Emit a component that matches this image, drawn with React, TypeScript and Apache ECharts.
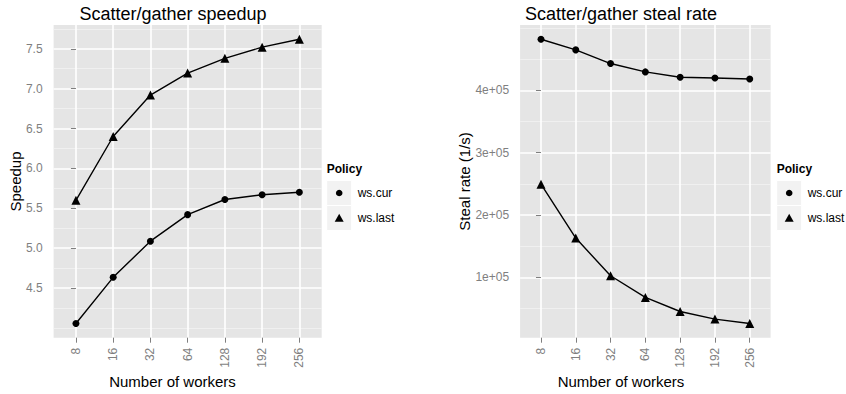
import React, { useEffect, useRef } from "react";
import * as echarts from "echarts";

const WORKERS = ["8", "16", "32", "64", "128", "192", "256"];
const SPEEDUP_CUR = [4.055, 4.634, 5.087, 5.42, 5.61, 5.67, 5.7];
const SPEEDUP_LAST = [5.6, 6.4, 6.92, 7.195, 7.38, 7.52, 7.62];
const STEAL_CUR = [481800, 464700, 442800, 429400, 420900, 419700, 418100];
const STEAL_LAST = [249500, 163100, 102700, 67900, 45400, 33200, 26200];
const SPEEDUP_MAJOR = [4.5, 5.0, 5.5, 6.0, 6.5, 7.0, 7.5];
const SPEEDUP_MINOR = [4.0, 4.25, 4.75, 5.25, 5.75, 6.25, 6.75, 7.25, 7.75];
const STEAL_MAJOR = [100000, 200000, 300000, 400000];
const STEAL_MINOR = [50000, 150000, 250000, 350000, 450000, 500000];
const POLICIES = ["ws.cur", "ws.last"];

const FONT = "Liberation Sans, Arial, Helvetica, sans-serif";
const GREY = "#7f7f7f";

function expand(values: number[]): [number, number] {
  const lo = Math.min(...values);
  const hi = Math.max(...values);
  const pad = (hi - lo) * 0.05;
  return [lo - pad, hi + pad];
}

export default function App() {
  const ref = useRef<HTMLDivElement>(null);
  useEffect(() => {
    if (!ref.current) return;
    const chart = echarts.init(ref.current, undefined, { renderer: "svg" });
    const [sMin, sMax] = expand([...SPEEDUP_CUR, ...SPEEDUP_LAST]);
    const [rMin, rMax] = expand([...STEAL_CUR, ...STEAL_LAST]);
    const idx = WORKERS.map((_, i) => i);

    const xAxis = (gridIndex: number) => ({
      type: "value",
      gridIndex,
      min: -0.6,
      max: WORKERS.length - 1 + 0.6,
      z: 2,
      axisLine: { show: false },
      axisTick: { show: true, length: 5, lineStyle: { color: GREY, width: 1 }, customValues: idx },
      axisLabel: {
        customValues: idx,
        rotate: 90,
        margin: 10,
        color: GREY,
        fontSize: 12,
        fontFamily: FONT,
        formatter: (v: number) => WORKERS[Math.round(v)],
      },
      splitLine: { show: true, lineStyle: { color: "#ffffff", width: 1.6 } },
    });

    const yMajor = (gridIndex: number, min: number, max: number, ticks: number[], fmt: (v: number) => string) => ({
      type: "value",
      gridIndex,
      min,
      max,
      position: "left",
      z: 2,
      axisLine: { show: false },
      axisTick: { show: true, length: 5, lineStyle: { color: GREY, width: 1 }, customValues: ticks },
      axisLabel: { customValues: ticks, margin: 11, color: GREY, fontSize: 12, fontFamily: FONT, formatter: fmt },
      splitLine: { show: true, lineStyle: { color: "#ffffff", width: 1.6 } },
    });
    const yMinor = (gridIndex: number, min: number, max: number, ticks: number[]) => ({
      type: "value",
      gridIndex,
      min,
      max,
      position: "right",
      z: 1,
      axisLine: { show: false },
      axisTick: { show: false, customValues: ticks },
      axisLabel: { show: false, customValues: ticks },
      splitLine: { show: true, lineStyle: { color: "#f2f2f2", width: 0.8 } },
    });

    const line = (name: string, values: number[], xi: number, yi: number, symbol: string, size: number) => ({
      type: "line",
      name,
      xAxisIndex: xi,
      yAxisIndex: yi,
      z: 3,
      data: values.map((v, i) => [i, v]),
      symbol,
      symbolSize: size,
      showSymbol: true,
      lineStyle: { color: "#000", width: 1.4 },
      itemStyle: { color: "#000" },
      emphasis: { disabled: true },
    });

    const legend = (x: number) => {
      const els: any[] = [
        { type: "text", x, y: 168.5, style: { text: "Policy", font: `bold 12px ${FONT}`, fill: "#000", textAlign: "left", textVerticalAlign: "middle" } },
      ];
      POLICIES.forEach((p, i) => {
        const top = 180.5 + i * 25;
        const cx = x + 12.5;
        const cy = top + 12.5;
        els.push({ type: "rect", shape: { x, y: top, width: 25, height: 25 }, style: { fill: "#f2f2f2", stroke: "#ffffff", lineWidth: 1 } });
        if (i === 0) {
          els.push({ type: "circle", shape: { cx, cy, r: 3.3 }, style: { fill: "#000" } });
        } else {
          els.push({ type: "polygon", shape: { points: [[cx - 4.5, cy + 3.8], [cx + 4.5, cy + 3.8], [cx, cy - 4.2]] }, style: { fill: "#000" } });
        }
        els.push({ type: "text", x: x + 31, y: cy, style: { text: p, font: `12px ${FONT}`, fill: "#000", textAlign: "left", textVerticalAlign: "middle" } });
      });
      return els;
    };

    chart.setOption({
      animation: false,
      grid: [
        { left: 53.6, top: 25, width: 268.1, height: 312.7, show: true, backgroundColor: "#e5e5e5", borderWidth: 0, z: 0 },
        { left: 520.1, top: 25, width: 250.5, height: 312.7, show: true, backgroundColor: "#e5e5e5", borderWidth: 0, z: 0 },
      ],
      xAxis: [xAxis(0), xAxis(1)],
      yAxis: [
        yMajor(0, sMin, sMax, SPEEDUP_MAJOR, (v: number) => v.toFixed(1)),
        yMinor(0, sMin, sMax, SPEEDUP_MINOR),
        yMajor(1, rMin, rMax, STEAL_MAJOR, (v: number) => `${Math.round(v / 100000)}e+05`),
        yMinor(1, rMin, rMax, STEAL_MINOR),
      ],
      series: [
        line(POLICIES[0], SPEEDUP_CUR, 0, 0, "circle", 7),
        line(POLICIES[1], SPEEDUP_LAST, 0, 0, "triangle", 9),
        line(POLICIES[0], STEAL_CUR, 1, 2, "circle", 7),
        line(POLICIES[1], STEAL_LAST, 1, 2, "triangle", 9),
      ],
      graphic: [
        { type: "text", x: 173, y: 13.5, style: { text: "Scatter/gather speedup", font: `18px ${FONT}`, fill: "#000", textAlign: "center", textVerticalAlign: "middle" } },
        { type: "text", x: 621, y: 13.5, style: { text: "Scatter/gather steal rate", font: `18px ${FONT}`, fill: "#000", textAlign: "center", textVerticalAlign: "middle" } },
        { type: "text", x: 172.5, y: 381.5, style: { text: "Number of workers", font: `15px ${FONT}`, fill: "#000", textAlign: "center", textVerticalAlign: "middle" } },
        { type: "text", x: 621, y: 381.5, style: { text: "Number of workers", font: `15px ${FONT}`, fill: "#000", textAlign: "center", textVerticalAlign: "middle" } },
        { type: "text", x: 15.5, y: 181.5, rotation: Math.PI / 2, style: { text: "Speedup", font: `15px ${FONT}`, fill: "#000", textAlign: "center", textVerticalAlign: "middle" } },
        { type: "text", x: 464.5, y: 181.5, rotation: Math.PI / 2, style: { text: "Steal rate (1/s)", font: `15px ${FONT}`, fill: "#000", textAlign: "center", textVerticalAlign: "middle" } },
        ...legend(326.7),
        ...legend(776.7),
      ],
    });
    return () => chart.dispose();
  }, []);
  return <div ref={ref} style={{ width: 846, height: 394, position: "absolute", left: 0, top: 0 }} />;
}
